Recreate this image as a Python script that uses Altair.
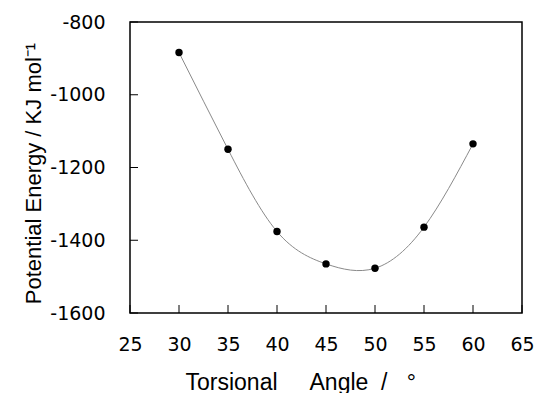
import altair as alt
import pandas as pd

# Data
angles = [30, 35, 40, 45, 50, 55, 60]
energies = [-884, -1150, -1376, -1465, -1477, -1364, -1135]
x_tick_values = [25, 30, 35, 40, 45, 50, 55, 60, 65]
y_tick_values = [-1600, -1400, -1200, -1000, -800]
x_title = "Torsional\u00a0\u00a0\u00a0\u00a0\u00a0Angle\u00a0\u00a0/\u00a0\u00a0\u00a0°"
y_title = "Potential Energy / KJ mol\u207b\u00b9"

df = pd.DataFrame({"angle": angles, "energy": energies})
xt = pd.DataFrame({"angle": x_tick_values})
yt = pd.DataFrame({"energy": y_tick_values})

FONT = "Liberation Sans"
LFONT = "DejaVu Sans"
W, H = 392, 291

xs = alt.Scale(domain=[25, 65], nice=False, zero=False)
ys = alt.Scale(domain=[-1600, -800], nice=False, zero=False)

x_axis = alt.Axis(
    values=x_tick_values, ticks=False, tickSize=0, domain=False, grid=False,
    labelFont=LFONT, labelFontSize=19, labelColor="black", labelPadding=22,
    labelFlush=False, labelOverlap=False,
    title=x_title, titleFont=FONT, titleFontSize=23, titleFontWeight="normal",
    titleColor="black", titleX=55, titleY=76, titleAlign="left",
    titleBaseline="alphabetic",
)
y_axis = alt.Axis(
    values=y_tick_values, ticks=False, tickSize=0, domain=False, grid=False,
    labelFont=LFONT, labelFontSize=19, labelColor="black", labelPadding=25,
    labelFlush=False, labelOverlap=False,
    labelExpr="'' + datum.value",
    title=y_title, titleFont=FONT, titleFontSize=22, titleFontWeight="normal",
    titleColor="black", titleX=-90, titleY=151, titleAlign="center",
    titleAngle=270, titleBaseline="alphabetic",
)

X = alt.X("angle:Q", scale=xs, axis=x_axis)
Y = alt.Y("energy:Q", scale=ys, axis=y_axis)

base = alt.Chart(df)

line = base.mark_line(color="#8a8a8a", strokeWidth=1, interpolate="natural").encode(x=X, y=Y)
points = base.mark_circle(color="black", size=55, opacity=1).encode(x=X, y=Y)
xticks = alt.Chart(xt).mark_rule(color="black", strokeWidth=1).encode(
    x=X, y=alt.value(H), y2=alt.value(H - 8),
)
yticks = alt.Chart(yt).mark_rule(color="black", strokeWidth=1).encode(
    y=Y, x=alt.value(0), x2=alt.value(8),
)

chart = alt.layer(line, xticks, yticks, points).properties(
    width=W, height=H,
    autosize=alt.AutoSizeParams(type="none"),
    padding={"left": 122, "top": 14, "right": 12, "bottom": 80},
    background="white",
).configure_view(stroke="black", strokeWidth=1.5)

chart.save("out.html", embed_options={"renderer": "svg", "actions": False})
